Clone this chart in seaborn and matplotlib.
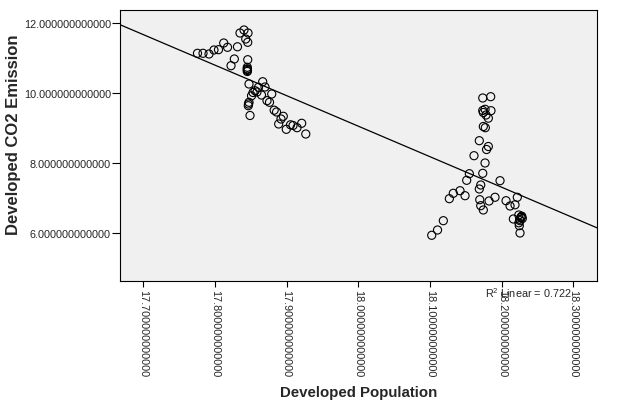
import matplotlib
matplotlib.use("Agg")
import matplotlib.pyplot as plt
import seaborn as sns
import numpy as np
import pandas as pd

population = [
    17.7756, 17.7833, 17.7917, 17.7986, 17.8049, 17.8122, 17.8175, 17.8314, 17.8349, 17.8405,
    17.8461, 17.8429, 17.8457, 17.8270, 17.8224, 17.8457, 17.8451, 17.8451, 17.8451, 17.8475,
    17.8666, 17.8607, 17.8698, 17.8559, 17.8531, 17.8586, 17.8510, 17.8649, 17.8792, 17.8475,
    17.8468, 17.8465, 17.8726, 17.8761, 17.8489, 17.8826, 17.8859, 17.8953, 17.8921, 17.8889,
    17.8995, 17.9054, 17.9089, 17.9145, 17.9210, 17.9267, 17.8451, 17.8453,
    18.1736, 18.1847, 18.1736, 18.1768, 18.1851, 18.1744, 18.1782, 18.1814, 18.1744, 18.1772,
    18.1688, 18.1814, 18.1789, 18.1614, 18.1768, 18.1549, 18.1736, 18.1512, 18.1977, 18.1708,
    18.1688, 18.1419, 18.1325, 18.1489, 18.1270, 18.1694, 18.1907, 18.1824, 18.1708, 18.1744,
    18.2061, 18.2117, 18.2186, 18.2218, 18.2163, 18.2239, 18.2274, 18.2288, 18.2256, 18.2246,
    18.2256, 18.1186, 18.1105, 18.1024, 18.2270, 18.2250, 18.2280, 18.2240,
]
co2 = [
    11.143, 11.143, 11.123, 11.237, 11.246, 11.437, 11.314, 11.329, 11.723, 11.809,
    11.723, 11.551, 11.457, 10.980, 10.789, 10.960, 10.743, 10.680, 10.623, 10.266,
    10.331, 10.171, 10.180, 10.074, 10.023, 10.037, 9.929, 9.951, 9.980, 9.743,
    9.694, 9.646, 9.789, 9.743, 9.366, 9.517, 9.466, 9.343, 9.266, 9.123,
    8.971, 9.100, 9.080, 9.017, 9.143, 8.837, 10.700, 10.650,
    9.866, 9.903, 9.509, 9.543, 9.503, 9.451, 9.380, 9.289, 9.051, 9.017,
    8.646, 8.480, 8.394, 8.217, 8.009, 7.703, 7.714, 7.514, 7.503, 7.380,
    7.266, 7.217, 7.143, 7.074, 6.989, 6.960, 7.029, 6.923, 6.789, 6.666,
    6.931, 6.780, 6.814, 7.029, 6.409, 6.523, 6.471, 6.423, 6.360, 6.217,
    6.009, 6.360, 6.094, 5.943, 6.450, 6.400, 6.490, 6.300,
]

x_ticks = [17.7, 17.8, 17.9, 18.0, 18.1, 18.2, 18.3]
y_ticks = [6.0, 8.0, 10.0, 12.0]
x_label = "Developed Population"
y_label = "Developed CO2 Emission"
r2_text = r"R$^2$ Linear = 0.722"

df = pd.DataFrame({"pop": population, "co2": co2})

sns.set_style("white")
plt.rcParams["font.family"] = ["Liberation Sans", "DejaVu Sans"]
plt.rcParams["mathtext.fontset"] = "custom"
plt.rcParams["mathtext.rm"] = "Liberation Sans"

fig = plt.figure(figsize=(6.31, 4.10), dpi=100)
ax = fig.add_axes([120 / 631, 1 - 282 / 410, 477 / 631, 271 / 410])
ax.set_facecolor("#f0f0f0")

ax.set_xlim(17.6675, 18.333)
ax.set_ylim(4.637, 12.38)

sns.scatterplot(data=df, x="pop", y="co2", ax=ax, s=34, facecolors="none",
                edgecolor="black", linewidth=0.8, marker="o", zorder=3)
sns.regplot(data=df, x="pop", y="co2", ax=ax, scatter=False, ci=None,
            truncate=False, line_kws={"color": "black", "linewidth": 0.9})

ax.set_xlim(17.6675, 18.333)
ax.set_ylim(4.637, 12.38)

ax.set_xticks(x_ticks)
ax.set_xticklabels([f"{v:.12f}" for v in x_ticks], rotation=270, fontsize=7.8)
ax.set_yticks(y_ticks)
ax.set_yticklabels([f"{v:.12f}" for v in y_ticks], fontsize=7.8)
ax.tick_params(axis="x", direction="out", length=4.5, width=0.8, pad=1, color="black", bottom=True)
ax.tick_params(axis="y", direction="out", length=5.5, width=0.8, pad=1, color="black", left=True)

for sp in ax.spines.values():
    sp.set_color("black")
    sp.set_linewidth(0.8)

ax.set_xlabel(x_label, fontsize=10.8, fontweight="bold", va="center")
ax.set_ylabel(y_label, fontsize=12, fontweight="bold", va="center")
ax.xaxis.set_label_coords(0.5, (282 - 393) / 271)
ax.yaxis.set_label_coords((14 - 120) / 477, (282 - 134.5) / 271)

fig.text(528 / 631, 1 - 293 / 410, r2_text, fontsize=7.8, ha="center", va="center")

fig.savefig("out.png", dpi=100)
